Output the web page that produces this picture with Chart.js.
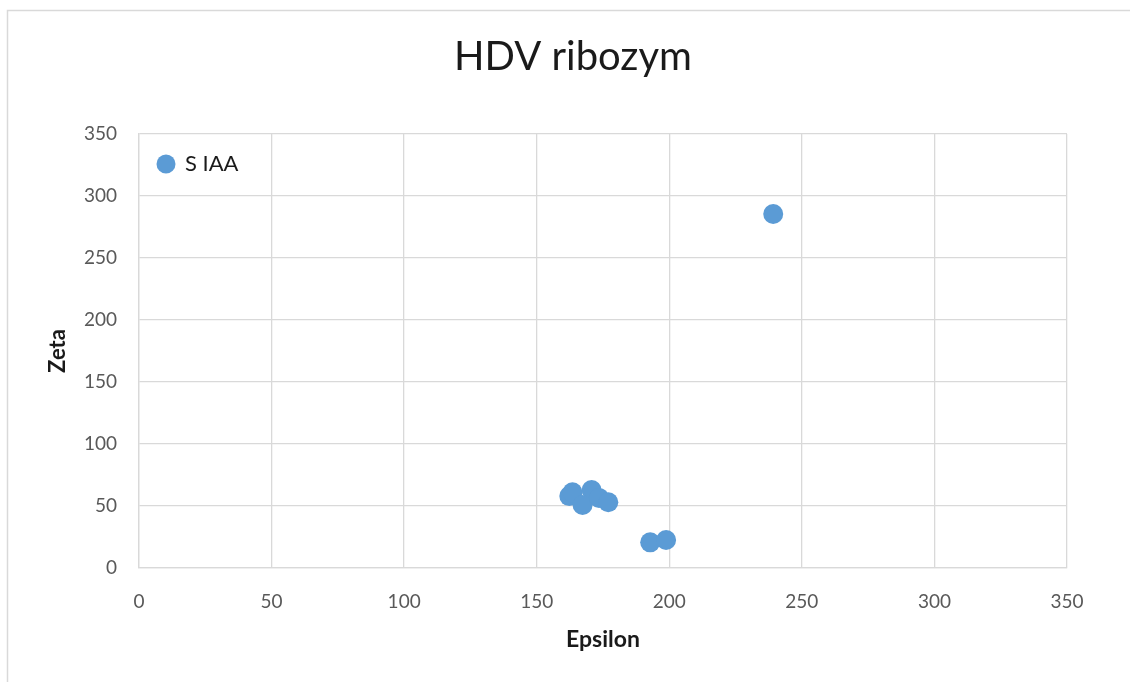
<!DOCTYPE html>
<html>
<head>
<meta charset="utf-8">
<script src="https://cdn.jsdelivr.net/npm/chart.js@4/dist/chart.umd.min.js"></script>
<style>
  html, body { margin: 0; padding: 0; background: #fff; }
  #wrap { width: 1130px; height: 682px; }
</style>
</head>
<body>
<div id="wrap"><canvas id="chart"></canvas></div>
<script>
// data
const seriesName = "S IAA"
const epsilon = [239.2, 162.3, 163.5, 170.7, 167.3, 173.5, 177.0, 192.8, 198.8]
const zeta = [285.5, 58.0, 61.0, 62.9, 50.8, 56.5, 53.0, 20.7, 22.6]
const axisMin = 0
const axisMax = 350
const axisStep = 50

const fontFamily = "Lato, 'Open Sans', sans-serif"
const gridColor = "#d9d9d9"
const tickColor = "#595959"
const textColor = "#1a1a1a"
const pointColor = "#5b9bd5"

// outer frame of the chart object
const framePlugin = {
    id: "frame",
    beforeDraw(chart){
        const ctx = chart.ctx
        ctx.save()
        ctx.fillStyle = "#fff"
        ctx.fillRect(0, 0, chart.width, chart.height)
        ctx.strokeStyle = gridColor
        ctx.lineWidth = 1.5
        ctx.strokeRect(7.5, 10.5, chart.width + 20, chart.height + 20)
        ctx.restore()
    }
}

// legend sits inside the plot, top left
const insideLegend = {
    id: "insideLegend",
    afterDraw(chart){
        const ctx = chart.ctx
        const area = chart.chartArea
        const ds = chart.data.datasets[0]
        const cx = area.left + 27
        const cy = area.top + 30
        ctx.save()
        ctx.fillStyle = ds.backgroundColor
        ctx.beginPath()
        ctx.arc(cx, cy, 9.5, 0, Math.PI * 2)
        ctx.fill()
        ctx.fillStyle = textColor
        ctx.font = `22px ${fontFamily}`
        ctx.textBaseline = "middle"
        ctx.fillText(ds.label, cx + 19, cy)
        ctx.restore()
    }
}

const points = epsilon.map((x, i) => ({x: x, y: zeta[i]}))

new Chart(document.getElementById("chart"), {
    type: "scatter",
    data: {
        datasets: [{
            label: seriesName,
            data: points,
            backgroundColor: pointColor,
            borderColor: pointColor,
            pointRadius: 10,
            pointHoverRadius: 10,
            borderWidth: 0
        }]
    },
    options: {
        responsive: true,
        maintainAspectRatio: false,
        animation: false,
        layout: {
            // left padding is wide so the chart title centres where the original does
            padding: {left: 79, right: 63, top: 10, bottom: 0}
        },
        scales: {
            x: {
                type: "linear",
                min: axisMin,
                max: axisMax,
                afterFit: s => { s.height = 114 },
                grid: {color: gridColor, drawTicks: false, lineWidth: 1.3},
                border: {color: gridColor, width: 1.3},
                ticks: {
                    stepSize: axisStep,
                    padding: 22,
                    color: tickColor,
                    font: {family: fontFamily, size: 19}
                },
                title: {
                    display: true,
                    text: "Epsilon",
                    color: textColor,
                    padding: {top: 0, bottom: 29},
                    font: {family: fontFamily, size: 23, weight: "bold"}
                }
            },
            y: {
                type: "linear",
                min: axisMin,
                max: axisMax,
                afterFit: s => { s.width = 60 },
                grid: {color: gridColor, drawTicks: false, lineWidth: 1.3},
                border: {color: gridColor, width: 1.3},
                ticks: {
                    stepSize: axisStep,
                    padding: 22,
                    color: tickColor,
                    font: {family: fontFamily, size: 19}
                },
                title: {
                    display: true,
                    text: "Zeta",
                    color: textColor,
                    // pulls the title back out into the left margin
                    padding: {top: -34, bottom: 0},
                    font: {family: fontFamily, size: 22, weight: "bold"}
                }
            }
        },
        plugins: {
            title: {
                display: true,
                text: "HDV ribozym",
                color: textColor,
                padding: {top: 23, bottom: 53},
                font: {family: fontFamily, size: 40, weight: "normal"}
            },
            legend: {display: false},
            tooltip: {enabled: false}
        }
    },
    plugins: [framePlugin, insideLegend]
})
</script>
</body>
</html>
